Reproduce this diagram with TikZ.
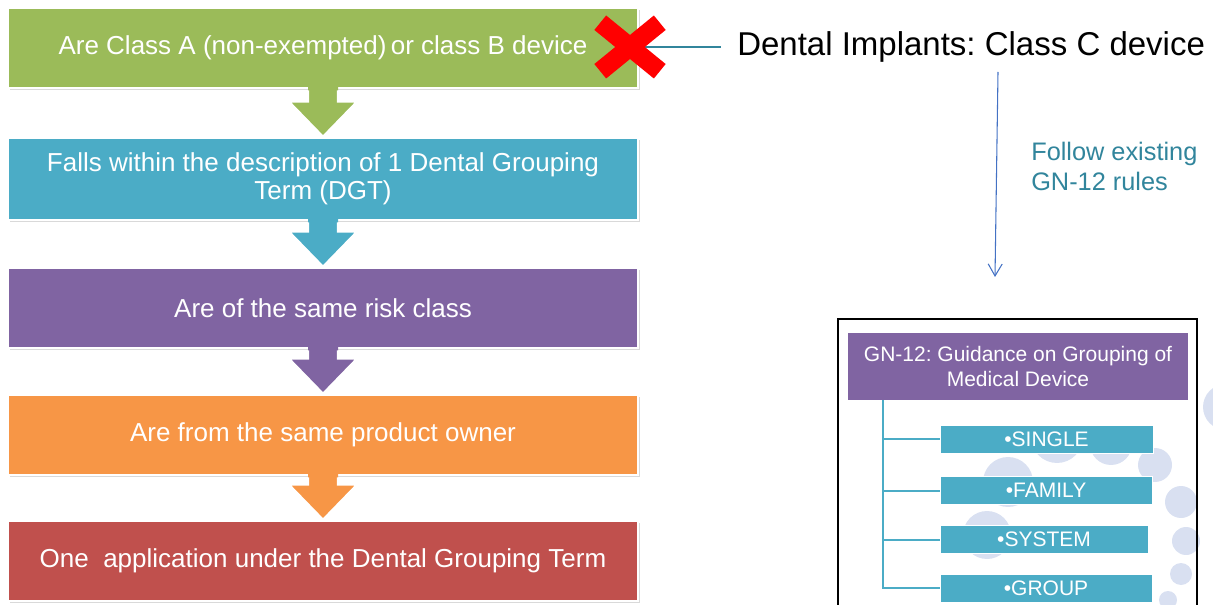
\documentclass[tikz,border=0pt]{standalone}
\usepackage{fontspec}
\setmainfont{Liberation Sans}
\frenchspacing
\usetikzlibrary{calc,arrows.meta,shadows}
\definecolor{cgreen}{HTML}{9BBB59}
\definecolor{cblue}{HTML}{4BACC6}
\definecolor{cpurple}{HTML}{8064A2}
\definecolor{corange}{HTML}{F79646}
\definecolor{cred}{HTML}{C0504D}
\definecolor{cteal}{HTML}{31859C}
\definecolor{carrow}{HTML}{4472C4}
\definecolor{ccircle}{HTML}{D9E0F1}
\newcommand\flowarrow[3]{%
  \fill[#3] ($(#1.south)+(-15,-3)$) -- ($(#2.north)+(-15,-35)$) -- ($(#2.north)+(-34,-35)$) -- (#2.north)
     -- ($(#2.north)+(34,-35)$) -- ($(#2.north)+(15,-35)$) -- ($(#1.south)+(15,-3)$) -- cycle;
  \draw[white, line width=1.6pt, line join=miter] ($(#1.south)+(-15,1)$) -- ($(#2.north)+(-15,-35)$) -- ($(#2.north)+(-34,-35)$) -- (#2.north)
     -- ($(#2.north)+(34,-35)$) -- ($(#2.north)+(15,-35)$) -- ($(#1.south)+(15,1)$);
}
\tikzset{
  flowbox/.style={fill=#1, draw=white, line width=2pt, minimum width=472.5pt, minimum height=60pt,
    inner sep=0pt, text=white, align=center, font=\fontsize{19.5}{21}\selectfont,
    drop shadow={shadow xshift=1.2pt, shadow yshift=-1.8pt, opacity=0.3}},
  childbox/.style={fill=cblue, draw=white, line width=0.6pt, minimum height=21pt, inner sep=0pt,
    text=white, font=\fontsize{15.75}{18}\selectfont},
  tree/.style={draw=cblue, line width=1.5pt},
  bubble/.style={fill=ccircle},
}
\begin{document}
\begin{tikzpicture}[x=0.75pt,y=-0.75pt]
\useasboundingbox (0,0) rectangle (1213,605);
% background bubbles
\foreach \cx/\cy/\r in {1226/407/23, 1008/482/25, 1155/465/17,
  1181/502/16, 1186/541/14, 1181/574/11, 1168/600/9, 987/535/24}
  \fill[bubble] (\cx,\cy) circle[radius=\r];
\begin{scope}
  \clip (900,430) rectangle (1200,606);
  \fill[bubble] (1057,437) circle[radius=26];
  \fill[bubble] (1111,444) circle[radius=21];
\end{scope}
% left flow
\node[flowbox=cgreen] (b1) at (323,48) {Are Class A (non-exempted)\,or class B device};
\node[flowbox=cblue, minimum height=61.5pt] (b2) at (323,179) {Falls within the description of 1 Dental Grouping\\Term (DGT)};
\node[flowbox=cpurple] (b3) at (323,308) {Are of the same risk class};
\node[flowbox=corange] (b4) at (323,435) {Are from the same product owner};
\node[flowbox=cred] (b5) at (323,561) {One\ \ application under the Dental Grouping Term};
\flowarrow{b1}{b2}{cgreen}
\flowarrow{b2}{b3}{cblue}
\flowarrow{b3}{b4}{cpurple}
\flowarrow{b4}{b5}{corange}
% title and cross
\node[anchor=west, inner sep=0pt, font=\fontsize{24.75}{28}\selectfont] (title) at (737,47) {Dental Implants: Class C device};
\node[minimum width=44.25pt, minimum height=36pt, inner sep=0pt] (cross) at (630,47) {};
\draw[cteal, line width=1.1pt] (cross.center) -- ([xshift=-12pt]title.west);
\draw[red, line width=14pt] (cross.north west) -- (cross.south east) (cross.north east) -- (cross.south west);
% vertical arrow
\coordinate (atop) at (998,72);
\coordinate (abot) at (995,277);
\draw[carrow, line width=0.8pt, -{Straight Barb[length=9pt,width=10.5pt]}] (atop) -- (abot);
\node[anchor=north west, inner sep=0pt, align=left, text=cteal, font=\fontsize{19}{22.5}\selectfont] (follow) at (1031,142) {Follow existing\\GN-12 rules};
% GN-12 panel
\draw[black, line width=1.1pt] (838,606) -- (838,319) -- (1197,319) -- (1197,606);
\node[fill=cpurple, minimum width=255pt, minimum height=50.25pt, inner sep=0pt, text=white, align=center,
  font=\fontsize{15.75}{18.75}\selectfont] (head) at (1018,366.5) {GN-12: Guidance on Grouping of\\Medical Device};
\node[childbox, minimum width=159.75pt] (c1) at (1046.5,439) {\textbullet SINGLE};
\node[childbox, minimum width=159pt] (c2) at (1046,490.5) {\textbullet FAMILY};
\node[childbox, minimum width=156pt] (c3) at (1044,539.5) {\textbullet SYSTEM};
\node[childbox, minimum width=159pt] (c4) at (1046,588) {\textbullet GROUP};
\coordinate (trunk) at (883,400);
\draw[tree] (trunk) |- (c4.west);
\foreach \c in {c1,c2,c3} \draw[tree] (trunk |- \c.west) -- (\c.west);
\end{tikzpicture}
\end{document}
